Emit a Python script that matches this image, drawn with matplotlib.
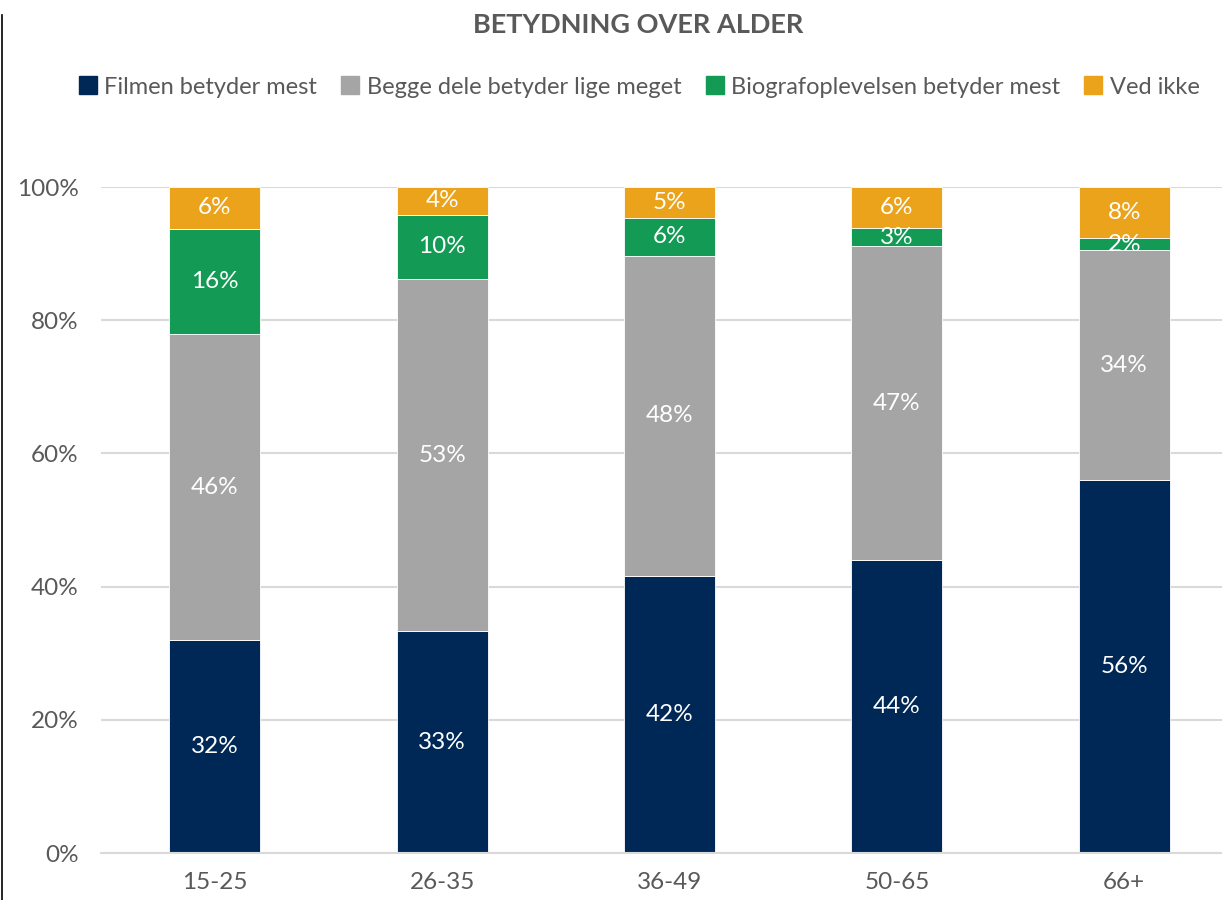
import numpy as np
import matplotlib.pyplot as plt
from matplotlib.lines import Line2D

plt.rcParams['font.family'] = ['Lato', 'DejaVu Sans']

# Data
kategorier = ['15-25', '26-35', '36-49', '50-65', '66+']
filmen = [32.0, 33.3, 41.6, 44.0, 56.0]
begge = [45.9, 52.9, 48.1, 47.1, 34.5]
biograf = [15.8, 9.6, 5.7, 2.7, 1.8]
ved_ikke = [6.3, 4.2, 4.6, 6.2, 7.7]

serier = ['Filmen betyder mest', 'Begge dele betyder lige meget',
          'Biografoplevelsen betyder mest', 'Ved ikke']
farver = ['#002856', '#a5a5a5', '#139a54', '#eaa31b']
vaerdier = [filmen, begge, biograf, ved_ikke]

fig = plt.figure(figsize=(12.22, 9), dpi=100)
ax = fig.add_axes([101/1222, 47/900, 1137/1222, 666/900])

x = np.arange(len(kategorier))
bund = np.zeros(len(kategorier))
for navn, farve, v in zip(serier, farver, vaerdier):
    v = np.array(v)
    ax.bar(x, v, 0.40, bottom=bund, color=farve, edgecolor='white', linewidth=0.6, label=navn)
    for xi, b, h in zip(x, bund, v):
        ax.text(xi, b + h/2, f'{h:.0f}%', ha='center', va='center', color='white', fontsize=17.5)
    bund += v

ax.set_xlim(-0.5, len(kategorier) - 0.5)
ax.set_ylim(0, 100)
ax.set_yticks(np.arange(0, 101, 20))
ax.set_yticklabels([f'{t}%' for t in range(0, 101, 20)])
ax.set_xticks(x)
ax.set_xticklabels(kategorier)
ax.tick_params(length=0, labelsize=17.5, labelcolor='#595959')
ax.tick_params(axis='y', pad=16)
ax.tick_params(axis='x', pad=14)
ax.grid(axis='y', color='#d9d9d9', linewidth=1.5)
ax.set_axisbelow(True)
for s in ['top', 'right', 'left']:
    ax.spines[s].set_visible(False)
ax.spines['bottom'].set_color('#d9d9d9')
ax.spines['bottom'].set_linewidth(1.5)

fig.text(0.522, 1 - 25/900, 'BETYDNING OVER ALDER', ha='center', va='center',
         fontsize=19.5, fontweight='bold', color='#595959')

handles = [Line2D([], [], marker='s', linestyle='none', markersize=13, color=f) for f in farver]
fig.legend(handles, serier, loc='center', bbox_to_anchor=(0.522, 1 - 87/900), ncol=4,
           frameon=False, fontsize=17, labelcolor='#595959', handletextpad=0.2,
           columnspacing=0.9, handlelength=1.0)

# kant til venstre
fig.add_artist(Line2D([2/1222, 2/1222], [0, 1 - 15/900], color='black', linewidth=1.2,
                      transform=fig.transFigure))

fig.savefig('out.png', dpi=100)
